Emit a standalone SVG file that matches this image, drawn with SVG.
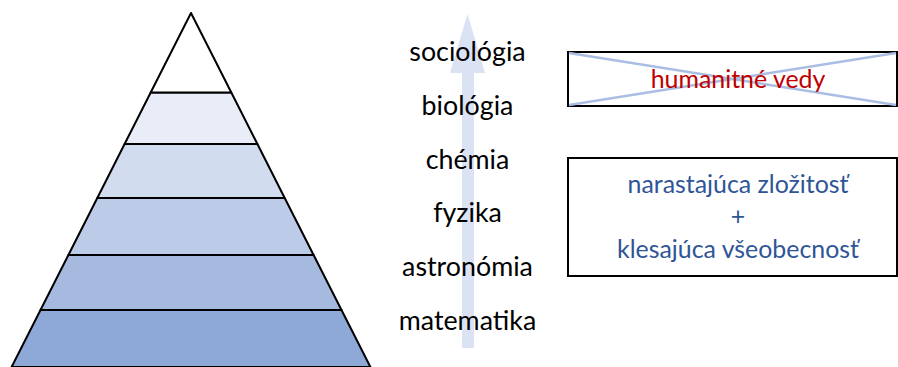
<svg xmlns="http://www.w3.org/2000/svg" width="898" height="367" viewBox="0 0 898 367">
<style>
.band{stroke:#000;stroke-width:2;stroke-linejoin:round}
.lbl{font-family:Lato,"Open Sans","Liberation Sans",sans-serif;font-size:26.8px;fill:#000;text-anchor:middle}
.box{fill:none;stroke:#000;stroke-width:2}
.red{font-family:Lato,"Open Sans","Liberation Sans",sans-serif;font-size:24.9px;fill:#C00000;text-anchor:middle}
.blue{font-family:Lato,"Open Sans","Liberation Sans",sans-serif;font-size:24.9px;fill:#2F5597;text-anchor:middle}
</style>
<rect width="898" height="367" fill="#fff"/>
<g id="pyramid">
<polygon class="band" points="40.5,310 341.5,310 370.4,367 11.6,367" fill="#8EA9D8"/>
<polygon class="band" points="68.4,255 313.6,255 341.5,310 40.5,310" fill="#A6BAE0"/>
<polygon class="band" points="97.3,198 284.7,198 313.6,255 68.4,255" fill="#BBCBE8"/>
<polygon class="band" points="124.6,144 257.4,144 284.7,198 97.3,198" fill="#D1DCEE"/>
<polygon class="band" points="150.7,92.5 231.3,92.5 257.4,144 124.6,144" fill="#E8EDF7"/>
<polygon class="band" points="191,13 231.3,92.5 150.7,92.5" fill="#fff"/>
</g>
<g id="arrow">
<polygon points="462,348 474,348 474,73 485,73 467.5,14 450,73 462,73" fill="#DAE2F3"/>
</g>
<g id="labels">
<text class="lbl" x="467.5" y="61">sociológia</text>
<text class="lbl" x="467.5" y="115">biológia</text>
<text class="lbl" x="467.5" y="169">chémia</text>
<text class="lbl" x="467.5" y="222">fyzika</text>
<text class="lbl" x="467.5" y="276">astronómia</text>
<text class="lbl" x="467.5" y="330">matematika</text>
</g>
<g id="humanities">
<rect class="box" x="568" y="52" width="329" height="54"/>
<line x1="569" y1="53" x2="896" y2="105" stroke="#A9BEE2" stroke-width="2.5"/>
<line x1="569" y1="105" x2="896" y2="53" stroke="#A9BEE2" stroke-width="2.5"/>
<text class="red" x="738" y="88">humanitné vedy</text>
</g>
<g id="complexity">
<rect class="box" x="568" y="158" width="329" height="118"/>
<text class="blue" x="738" y="193">narastajúca zložitosť</text>
<text class="blue" x="738" y="225">+</text>
<text class="blue" x="738" y="258">klesajúca všeobecnosť</text>
</g>
</svg>
